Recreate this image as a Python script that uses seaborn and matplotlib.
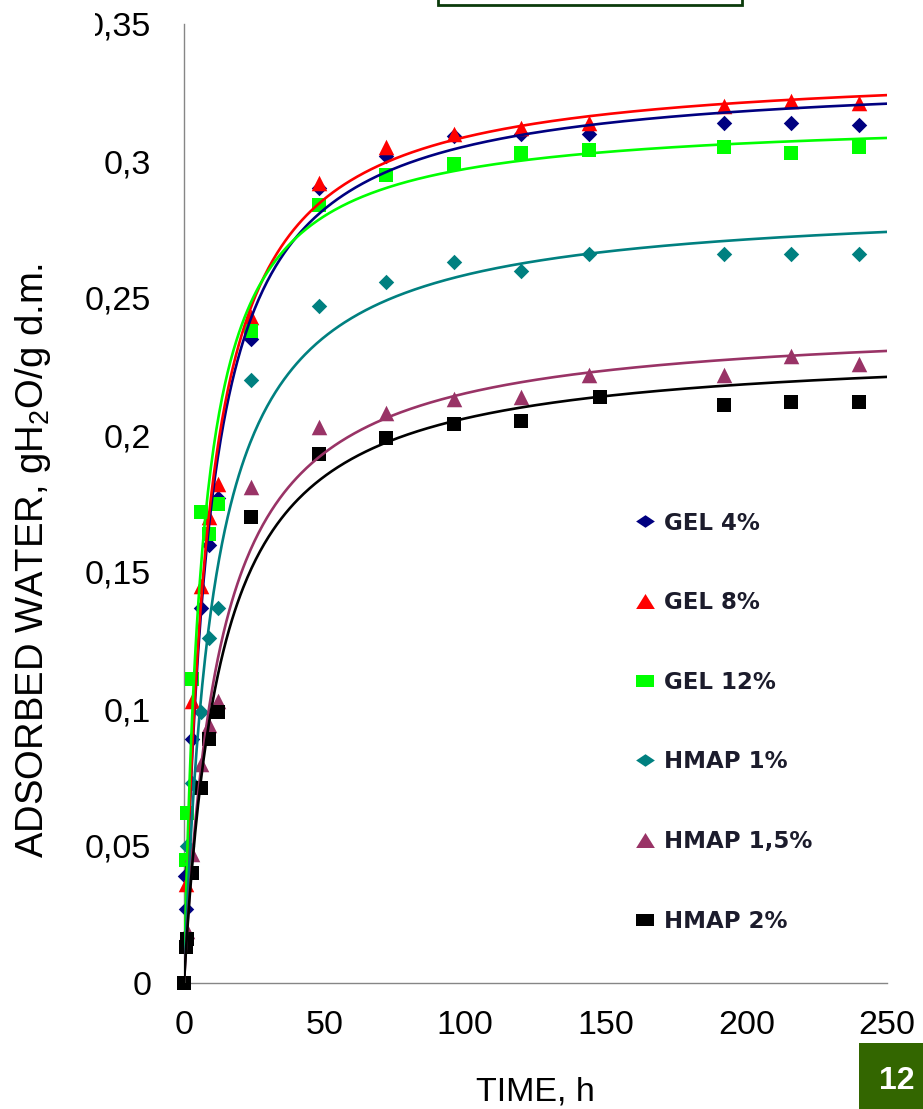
import numpy as np
import pandas as pd
import matplotlib
matplotlib.use("Agg")
import matplotlib.pyplot as plt
import seaborn as sns
from matplotlib.lines import Line2D
from matplotlib.patches import Rectangle

# ---------------- data ----------------
SERIES = ["GEL 4%", "GEL 8%", "GEL 12%", "HMAP 1%", "HMAP 1,5%", "HMAP 2%"]
COLORS = ["#000080", "#FF0000", "#00FF00", "#008080", "#993366", "#000000"]
MARKERS = ["D", "^", "s", "D", "^", "s"]

t_gel4 = [0.2, 0.7, 3, 6, 9, 12, 24, 48, 72, 96, 120, 144, 192, 216, 240]
y_gel4 = [0.039, 0.027, 0.089, 0.137, 0.160, 0.177, 0.235, 0.290, 0.302, 0.309,
          0.310, 0.310, 0.314, 0.314, 0.313]

t_gel8 = [0.7, 3, 6, 9, 12, 24, 48, 72, 96, 120, 144, 192, 216, 240]
y_gel8 = [0.036, 0.103, 0.145, 0.170, 0.182, 0.243, 0.292, 0.305, 0.310, 0.312,
          0.314, 0.320, 0.322, 0.321]

t_gel12 = [0.7, 1, 3, 6, 9, 12, 24, 48, 72, 96, 120, 144, 192, 216, 240]
y_gel12 = [0.045, 0.062, 0.111, 0.172, 0.164, 0.175, 0.238, 0.284, 0.295, 0.299,
           0.303, 0.304, 0.305, 0.303, 0.305]

t_hmap1 = [1, 3, 6, 9, 12, 24, 48, 72, 96, 120, 144, 192, 216, 240]
y_hmap1 = [0.050, 0.073, 0.099, 0.126, 0.137, 0.220, 0.247, 0.256, 0.263, 0.260,
           0.266, 0.266, 0.266, 0.266]

t_hmap15 = [1, 3, 6, 9, 12, 24, 48, 72, 96, 120, 144, 192, 216, 240]
y_hmap15 = [0.019, 0.047, 0.080, 0.094, 0.103, 0.181, 0.203, 0.208, 0.213, 0.214,
            0.222, 0.222, 0.229, 0.226]

t_hmap2 = [0, 0.7, 1, 3, 6, 9, 12, 24, 48, 72, 96, 120, 148, 192, 216, 240]
y_hmap2 = [0.0, 0.013, 0.016, 0.040, 0.071, 0.089, 0.099, 0.170, 0.193, 0.199,
           0.204, 0.205, 0.214, 0.211, 0.212, 0.212]

# fitted (Peleg-type) model parameters of the trend curves: y = t / (k1 + k2 t)
FIT_K1 = [26.5, 25.5, 20.6, 37.0, 52.0, 55.4]
FIT_K2 = [3.01, 2.984, 3.16, 3.50, 4.127, 4.299]

X_TICKS = [0, 50, 100, 150, 200, 250]
Y_TICKS = [0, 0.05, 0.1, 0.15, 0.2, 0.25, 0.3, 0.35]
Y_TICK_LABELS = ["0", "0,05", "0,1", "0,15", "0,2", "0,25", "0,3", "0,35"]

T_LIST = [t_gel4, t_gel8, t_gel12, t_hmap1, t_hmap15, t_hmap2]
Y_LIST = [y_gel4, y_gel8, y_gel12, y_hmap1, y_hmap15, y_hmap2]

# ---------------- styling ----------------
sns.set_style("white")
plt.rcParams["font.family"] = ["Liberation Sans", "DejaVu Sans"]
plt.rcParams["mathtext.fontset"] = "custom"
plt.rcParams["mathtext.rm"] = "Liberation Sans"
plt.rcParams["mathtext.it"] = "Liberation Sans:italic"

W, H = 923, 1109
fig = plt.figure(figsize=(W / 100, H / 100), dpi=100)
fig.patch.set_facecolor("white")
ax = fig.add_axes([184 / W, 126 / H, 703 / W, 959 / H])

SIZES = {"D": 62, "^": 125, "s": 110}

for i, name in enumerate(SERIES):
    df = pd.DataFrame({"time": T_LIST[i], "water": Y_LIST[i]})
    sns.scatterplot(data=df, x="time", y="water", color=COLORS[i], marker=MARKERS[i],
                    s=SIZES[MARKERS[i]], linewidth=0, ax=ax, clip_on=False,
                    zorder=3 + i * 0.01, legend=False)

t_fit = np.linspace(0, 250, 500)
for i, name in enumerate(SERIES):
    fit_df = pd.DataFrame({"time": t_fit,
                           "water": t_fit / (FIT_K1[i] + FIT_K2[i] * t_fit)})
    sns.lineplot(data=fit_df, x="time", y="water", color=COLORS[i], lw=1.9,
                 estimator=None, ax=ax, zorder=4, legend=False)

ax.set_xlim(0, 250)
ax.set_ylim(0, 0.35)
ax.set_xticks(X_TICKS)
ax.set_xticklabels([str(v) for v in X_TICKS])
ax.set_yticks(Y_TICKS)
ax.set_yticklabels(Y_TICK_LABELS)

for side in ["top", "right"]:
    ax.spines[side].set_visible(False)
for side in ["left", "bottom"]:
    ax.spines[side].set_color("#868686")
    ax.spines[side].set_linewidth(1.0)

ax.tick_params(axis="both", direction="out", length=7.5, width=1.0,
               color="#868686", labelsize=24.5, labelcolor="black")
ax.tick_params(axis="y", pad=16)
ax.tick_params(axis="x", pad=12)
ax.grid(False)

ax.set_xlabel("TIME, h", fontsize=24.5, color="black")
ax.xaxis.set_label_coords(0.5, -0.097)
ax.set_ylabel(r"ADSORBED WATER, gH$_2$O/g d.m.", fontsize=27.5, color="black")
ax.yaxis.set_label_coords(-0.186, 0.441)

# legend (marker-only handles, flattened as in the reference)
LEG_MARKERS = {
    "D": [(-1, 0), (0, 0.67), (1, 0), (0, -0.67)],
    "^": [(-1, -0.8), (1, -0.8), (0, 0.8)],
    "s": [(-1, -0.63), (1, -0.63), (1, 0.63), (-1, 0.63)],
}
handles = [Line2D([], [], linestyle="none", marker=LEG_MARKERS[m], markersize=13.5,
                  markerfacecolor=c, markeredgewidth=0)
           for m, c in zip(MARKERS, COLORS)]
fs_leg = 16.5
leg = fig.legend(handles, SERIES, loc="upper left",
                 bbox_to_anchor=(631 / W, (H - 511.5) / H),
                 frameon=False, handlelength=1.2,
                 handletextpad=0.25, labelspacing=2.47, borderpad=0,
                 borderaxespad=0,
                 prop={"family": "DejaVu Sans", "size": fs_leg, "weight": "bold"})
for txt in leg.get_texts():
    txt.set_color("#1c1c2c")

# slide decorations: header box (cut at top) and page number box
fig.add_artist(Rectangle((438 / W, (H - 4.5) / H), (742 - 438) / W, 30 / H,
                         transform=fig.transFigure, facecolor="white",
                         edgecolor="#0b3b0b", linewidth=2.0, clip_on=False))
fig.add_artist(Rectangle((859 / W, 0), 64 / W, 66 / H, transform=fig.transFigure,
                         facecolor="#336600", edgecolor="none"))
fig.text(897 / W, (H - 1081) / H, "12", color="white", fontsize=23,
         fontweight="bold", ha="center", va="center")
# the top-left corner of the slide hides part of the top tick label
fig.add_artist(Rectangle((0, (H - 48) / H), 95 / W, 48 / H, transform=fig.transFigure,
                         facecolor="white", edgecolor="none", zorder=10))

fig.savefig("out.png", dpi=100, facecolor="white")
